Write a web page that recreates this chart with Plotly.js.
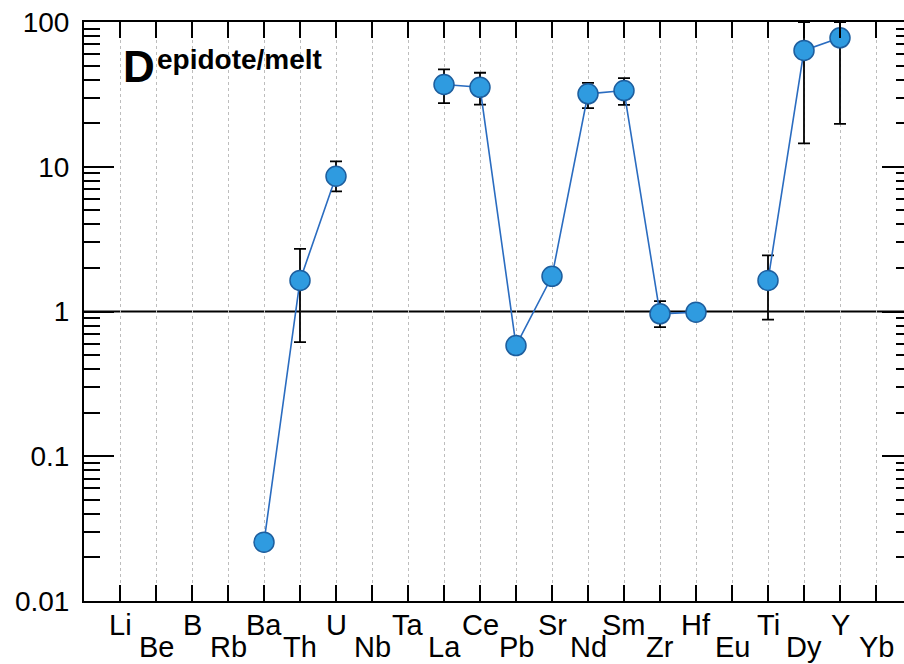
<!DOCTYPE html>
<html>
<head>
<meta charset="utf-8">
<script src="https://cdn.plot.ly/plotly-3.0.1.min.js"></script>
<style>
html, body { margin: 0; padding: 0; overflow: hidden; background: #fff; }
#chart { width: 912px; height: 664px; }
</style>
</head>
<body>
<div id="chart"></div>
<script>
// Element categories along the x axis
const categories = ["Li","Be","B","Rb","Ba","Th","U","Nb","Ta","La","Ce","Pb","Sr","Nd","Sm","Zr","Hf","Eu","Ti","Dy","Y","Yb"];
// Partition coefficient D(epidote/melt); null = no data
const dValues = [null,null,null,null,0.0255,1.64,8.6,null,null,37.0,35.4,0.582,1.75,31.9,33.6,0.964,0.99,null,1.64,63.6,77.8,null];
// Upper and lower ends of the error bars
const errHigh = [null,null,null,null,null,2.71,10.9,null,null,47.0,44.6,null,null,38.0,40.9,1.18,null,null,2.44,100,100,null];
const errLow  = [null,null,null,null,null,0.614,6.75,null,null,27.5,26.9,null,null,25.4,26.8,0.78,null,null,0.88,14.5,19.8,null];
// Y tick labels
const yTickVals = [0.01, 0.1, 1, 10, 100];
const yTickText = ["0.01", "0.1", "1", "10", "100"];
const referenceLevel = 1;
const titleMain = "D";
const titleSub = "epidote/melt";

const plus = dValues.map((v, i) => (v !== null && errHigh[i] !== null) ? errHigh[i] - v : 0);
const minus = dValues.map((v, i) => (v !== null && errLow[i] !== null) ? v - errLow[i] : 0);

const FONT = "Arial, 'Liberation Sans', sans-serif";

const trace = {
  x: categories,
  y: dValues,
  type: "scatter",
  mode: "lines+markers",
  connectgaps: false,
  line: { color: "#2a6cc0", width: 1.6 },
  marker: { size: 20, color: "#2f9be0", line: { color: "#1d5e9e", width: 1.5 } },
  error_y: {
    type: "data", symmetric: false,
    array: plus, arrayminus: minus,
    color: "#000", thickness: 1.8, width: 6
  },
  hoverinfo: "x+y"
};

const annotations = categories.map((c, i) => ({
  x: c, y: 0, xref: "x", yref: "paper",
  text: c, showarrow: false,
  xanchor: "center", yanchor: "middle",
  yshift: (i % 2 === 0) ? -24 : -46,
  font: { family: FONT, size: 29, color: "#000" }
}));
annotations.push({
  x: 0.0447, y: 0.969, xref: "paper", yref: "paper",
  text: "<b>" + titleMain + "</b>", showarrow: false,
  xanchor: "left", yanchor: "top",
  font: { family: FONT, size: 44, color: "#000" }
});
annotations.push({
  x: 0.0857, y: 0.966, xref: "paper", yref: "paper",
  text: "<b>" + titleSub + "</b>", showarrow: false,
  xanchor: "left", yanchor: "top",
  font: { family: FONT, size: 28, color: "#000" }
});

const layout = {
  width: 912, height: 664,
  margin: { l: 84, r: 0, t: 22, b: 63, pad: 0 },
  paper_bgcolor: "#fff", plot_bgcolor: "#fff",
  showlegend: false,
  font: { family: FONT, size: 28, color: "#000" },
  xaxis: {
    type: "category",
    categoryorder: "array", categoryarray: categories,
    range: [-1, 22],
    showticklabels: false,
    ticks: "inside", ticklen: 16, tickwidth: 2, tickcolor: "#000",
    showline: true, linewidth: 2, linecolor: "#000", mirror: "allticks",
    showgrid: true, gridcolor: "#bdbdbd", gridwidth: 1, griddash: "dot",
    zeroline: false, fixedrange: true
  },
  yaxis: {
    type: "log",
    range: [-2, 2],
    tickmode: "array", tickvals: yTickVals, ticktext: yTickText,
    ticks: "inside", ticklen: 30, tickwidth: 2, tickcolor: "#000",
    ticklabelstandoff: 7,
    tickfont: { family: FONT, size: 28, color: "#000" },
    minor: { dtick: "D1", ticks: "inside", ticklen: 16, tickwidth: 2, tickcolor: "#000", showgrid: false },
    showline: true, linewidth: 2, linecolor: "#000", mirror: "allticks",
    showgrid: false, zeroline: false, fixedrange: true
  },
  shapes: [{
    type: "line", xref: "paper", yref: "y",
    x0: 0, x1: 1, y0: referenceLevel, y1: referenceLevel,
    line: { color: "#000", width: 2 }, layer: "below"
  }],
  annotations: annotations
};

Plotly.newPlot("chart", [trace], layout, { displayModeBar: false, staticPlot: true });
</script>
</body>
</html>
